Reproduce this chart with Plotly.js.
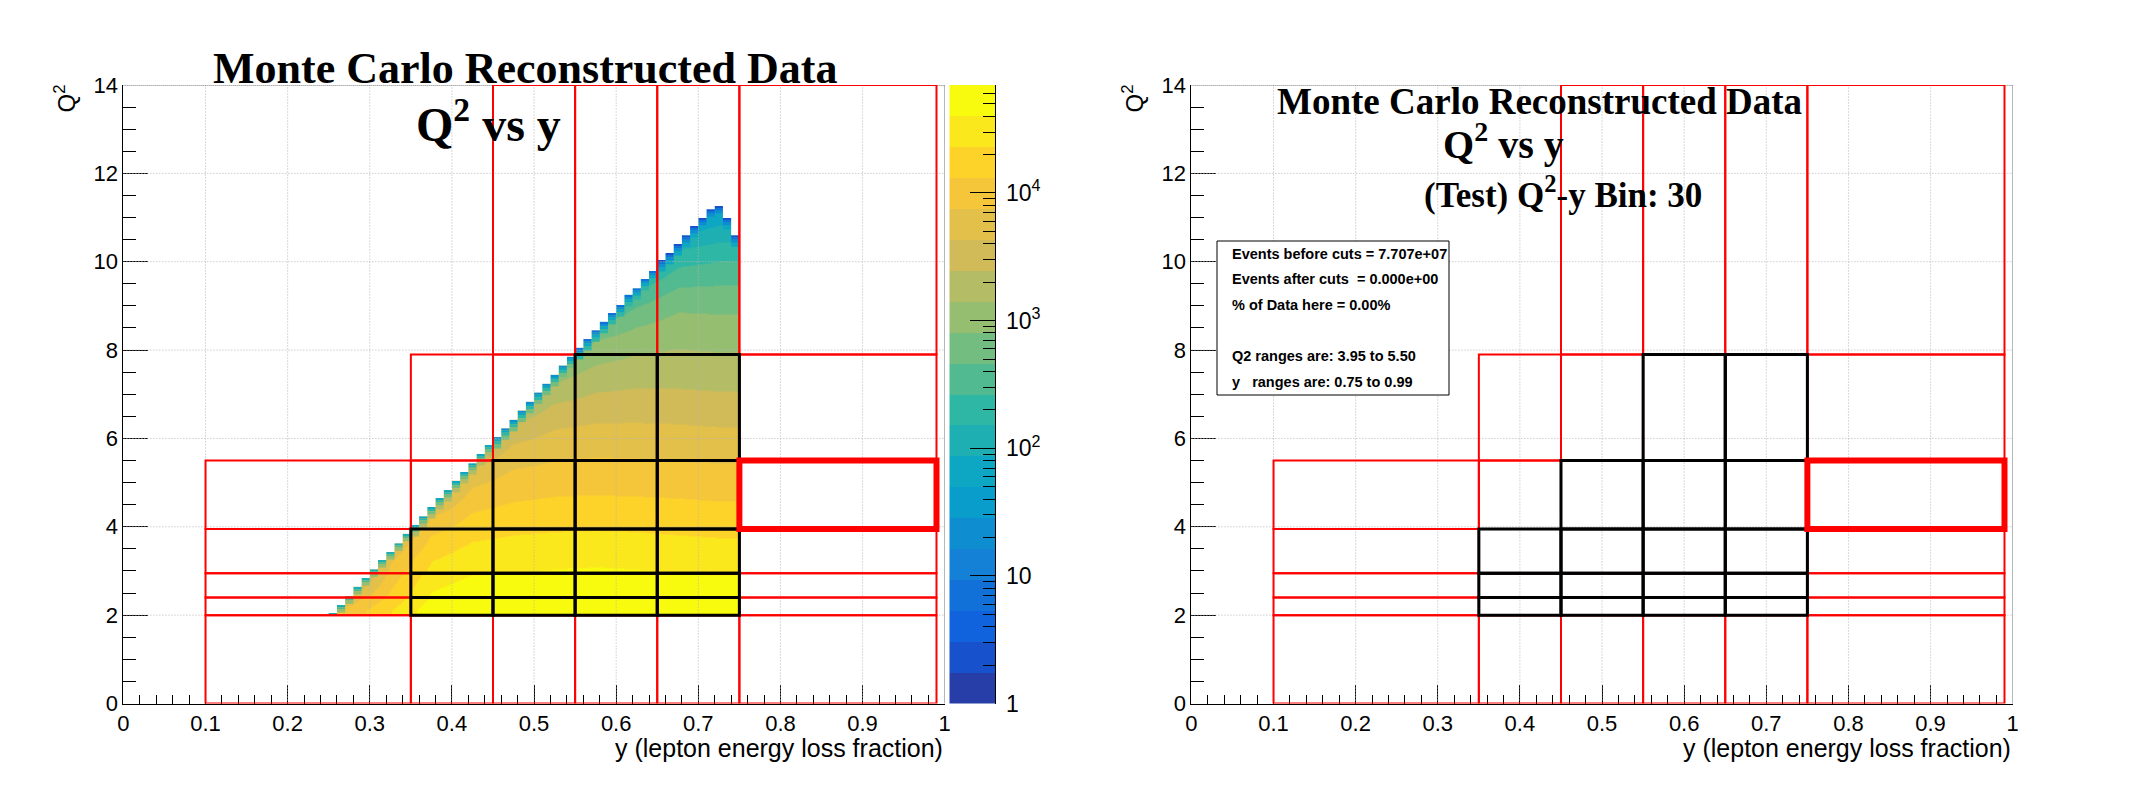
<!DOCTYPE html>
<html><head><meta charset="utf-8">
<script src="https://cdn.plot.ly/plotly-3.0.1.min.js"></script>
<style>html,body{margin:0;padding:0;background:#fff;}#chart{width:2136px;height:790px;}</style>
</head><body><div id="chart"></div>
<script>
// ================= DATA =================
// 2D histogram columns (y bin edges) and the top Q2 edge of each filled column
const histYEdges = [0.25,0.26,0.27,0.28,0.29,0.30,0.31,0.32,0.33,0.34,0.35,0.36,0.37,0.38,0.39,0.40,0.41,0.42,0.43,0.44,0.45,0.46,0.47,0.48,0.49,0.50,0.51,0.52,0.53,0.54,0.55,0.56,0.57,0.58,0.59,0.60,0.61,0.62,0.63,0.64,0.65,0.66,0.67,0.68,0.69,0.70,0.71,0.72,0.73,0.74,0.75];
const histTops = [2.05,2.23,2.43,2.64,2.84,3.04,3.25,3.43,3.63,3.84,
  4.04,4.24,4.45,4.65,4.83,5.04,5.24,5.44,5.65,5.85,
  6.03,6.23,6.42,6.63,6.83,7.04,7.24,7.44,7.65,7.85,
  8.05,8.25,8.45,8.64,8.84,9.02,9.25,9.40,9.61,9.79,
  10.04,10.20,10.40,10.60,10.81,10.99,11.19,11.26,10.99,10.60];
const histQ2Min = 2.0;

// coarse read-out of log10(counts) : rows = Q2 cells, columns = y cells
const countYEdges = [0.25,0.30,0.35,0.40,0.45,0.50,0.55,0.60,0.65,0.70,0.75];
const countQ2Edges = [2.0,2.25,2.5,2.75,3.0,3.5,4.0,4.5,5.0,5.5,6.0,6.5,7.0,7.5,8.0,8.5,9.0,9.5,10.0,10.5,11.0,11.5];
const log10Counts = [
  [3.95,4.35,4.75,4.79,4.82,4.83,4.84,4.83,4.81,4.78],
  [3.75,4.20,4.64,4.75,4.78,4.79,4.80,4.79,4.77,4.74],
  [3.40,4.10,4.58,4.69,4.72,4.73,4.74,4.73,4.71,4.68],
  [3.10,4.00,4.50,4.62,4.65,4.67,4.68,4.67,4.65,4.62],
  [2.80,3.85,4.35,4.50,4.54,4.56,4.57,4.56,4.54,4.51],
  [2.50,3.50,4.15,4.33,4.38,4.40,4.41,4.40,4.38,4.36],
  [2.20,3.10,3.85,4.15,4.22,4.25,4.26,4.25,4.23,4.21],
  [2.00,2.70,3.40,3.95,4.06,4.10,4.11,4.10,4.09,4.07],
  [1.80,2.40,3.00,3.70,3.90,3.95,3.97,3.96,3.95,3.93],
  [1.60,2.20,2.70,3.30,3.70,3.80,3.83,3.82,3.80,3.79],
  [1.50,2.00,2.40,2.90,3.45,3.62,3.67,3.67,3.66,3.64],
  [1.40,1.80,2.20,2.60,3.10,3.42,3.50,3.52,3.51,3.49],
  [1.30,1.70,2.00,2.40,2.70,3.15,3.32,3.36,3.36,3.34],
  [1.20,1.60,1.90,2.20,2.45,2.90,3.12,3.20,3.22,3.20],
  [1.10,1.50,1.80,2.00,2.20,2.50,2.90,3.05,3.10,3.08],
  [1.00,1.40,1.70,1.90,2.00,2.15,2.50,2.80,2.95,2.93],
  [0.90,1.30,1.60,1.80,1.85,1.90,2.10,2.50,2.75,2.75],
  [0.80,1.20,1.50,1.70,1.70,1.70,1.70,2.10,2.50,2.55],
  [0.70,1.10,1.40,1.60,1.55,1.50,1.40,1.60,2.20,2.30],
  [0.60,1.00,1.30,1.50,1.40,1.30,1.10,1.20,1.80,2.00],
  [0.50,0.90,1.20,1.40,1.30,1.10,0.90,0.90,1.30,1.60]
];
// thin low-count fringe under each column top: depth bands (in Q2) and colour level per y group
const fringeDepths = [0, 0.05, 0.10, 0.17, 0.26];
const fringeGroupStart = [0.25, 0.35, 0.45, 0.55, 0.65];
const fringeLevels = [
  [8, 10, 12, null],
  [7, 9, 11, 13],
  [5, 7, 9, 11],
  [3, 5, 7, 9],
  [1, 3, 5, 7]
];
const zLogMax = 4.846;   // log10 of the largest bin (~7e4)
const nLevels = 20;

// Q2-y bin scheme
const allBinsYLo = [0.1,0.35,0.45,0.55,0.65,0.75, 0.1,0.35,0.45,0.55,0.65,0.75, 0.1,0.35,0.45,0.55,0.65,0.75, 0.1,0.35,0.45,0.55,0.65,0.75, 0.1,0.35,0.45,0.55,0.65,0.75, 0.35,0.45,0.55,0.65,0.75, 0.45,0.55,0.65,0.75];
const allBinsYHi = [0.35,0.45,0.55,0.65,0.75,0.99, 0.35,0.45,0.55,0.65,0.75,0.99, 0.35,0.45,0.55,0.65,0.75,0.99, 0.35,0.45,0.55,0.65,0.75,0.99, 0.35,0.45,0.55,0.65,0.75,0.99, 0.45,0.55,0.65,0.75,0.99, 0.55,0.65,0.75,0.99];
const allBinsQLo = [0,0,0,0,0,0, 2,2,2,2,2,2, 2.4,2.4,2.4,2.4,2.4,2.4, 2.95,2.95,2.95,2.95,2.95,2.95, 3.95,3.95,3.95,3.95,3.95,3.95, 5.5,5.5,5.5,5.5,5.5, 7.9,7.9,7.9,7.9];
const allBinsQHi = [2,2,2,2,2,2, 2.4,2.4,2.4,2.4,2.4,2.4, 2.95,2.95,2.95,2.95,2.95,2.95, 3.95,3.95,3.95,3.95,3.95,3.95, 5.5,5.5,5.5,5.5,5.5,5.5, 7.9,7.9,7.9,7.9,7.9, 14,14,14,14];
const dataBinsYLo = [0.35,0.45,0.55,0.65, 0.35,0.45,0.55,0.65, 0.35,0.45,0.55,0.65, 0.45,0.55,0.65, 0.55,0.65];
const dataBinsYHi = [0.45,0.55,0.65,0.75, 0.45,0.55,0.65,0.75, 0.45,0.55,0.65,0.75, 0.55,0.65,0.75, 0.65,0.75];
const dataBinsQLo = [2,2,2,2, 2.4,2.4,2.4,2.4, 2.95,2.95,2.95,2.95, 3.95,3.95,3.95, 5.5,5.5];
const dataBinsQHi = [2.4,2.4,2.4,2.4, 2.95,2.95,2.95,2.95, 3.95,3.95,3.95,3.95, 5.5,5.5,5.5, 7.9,7.9];
const currentBin = {yLo:0.75, yHi:0.99, qLo:3.95, qHi:5.5};

// axis ticks
const xTickVals = [0,0.1,0.2,0.3,0.4,0.5,0.6,0.7,0.8,0.9,1];
const xTickText = ['0','0.1','0.2','0.3','0.4','0.5','0.6','0.7','0.8','0.9','1'];
const yTickVals = [0,2,4,6,8,10,12,14];
const yTickText = ['0','2','4','6','8','10','12','14'];
const zTickVals = [0,1,2,3,4];
const zTickText = ['1','10','10<sup>2</sup>','10<sup>3</sup>','10<sup>4</sup>'];
const zMinorMult = [2,3,4,5,6,7,8,9];

const boxLines = ['Events before cuts = 7.707e+07','Events after cuts \u00a0= 0.000e+00','% of Data here = 0.00%','Q2 ranges are: 3.95 to 5.50','y \u00a0\u00a0ranges are: 0.75 to 0.99'];

// ================= STYLE / BUILD =================
const W = 2136, H = 790;
const px = v => v / W, py = v => 1 - v / H;
const birdStops=[0,0.125,0.25,0.375,0.5,0.625,0.75,0.875,1];
const birdR=[0.2082,0.0592,0.0780,0.0232,0.1802,0.5301,0.8186,0.9956,0.9764];
const birdG=[0.1664,0.3599,0.5041,0.6419,0.7178,0.7492,0.7328,0.7862,0.9832];
const birdB=[0.5293,0.8684,0.8385,0.7914,0.6425,0.4662,0.3499,0.1968,0.0539];
function bird(t){
  let s=0; while(s<birdStops.length-2 && t>birdStops[s+1]) s++;
  const f=(t-birdStops[s])/(birdStops[s+1]-birdStops[s]);
  const c=a=>Math.round(255*(a[s]+f*(a[s+1]-a[s])));
  return 'rgb('+c(birdR)+','+c(birdG)+','+c(birdB)+')';
}
const bandColors=[]; for(let k=0;k<nLevels;k++) bandColors.push(bird(Math.floor((k+0.99)*255/nLevels)/254));
const colorscale=[]; for(let k=0;k<nLevels;k++){ colorscale.push([k/nLevels,bandColors[k]]); colorscale.push([(k+1)/nLevels,bandColors[k]]); }
const bandW = zLogMax/nLevels;

const traces=[];
traces.push({type:'heatmap', x:countYEdges, y:countQ2Edges, z:log10Counts, zsmooth:'best', zmin:0, zmax:zLogMax, zauto:false,
  colorscale:colorscale, showscale:false, hoverinfo:'skip', xaxis:'x', yaxis:'y'});
// white cover above the histogram edge (slightly overhanging the histogram range)
const nE = histYEdges.length;
const mx=[histYEdges[0]-0.006], my=[11.8];
mx.push(histYEdges[0]-0.006); my.push(histTops[0]);
for(let i=0;i<histTops.length;i++){
  const xe = (i+1===histTops.length) ? histYEdges[i+1]+0.006 : histYEdges[i+1];
  mx.push(xe); my.push(histTops[i]);
  if(i+1<histTops.length){ mx.push(xe); my.push(histTops[i+1]); }
}
mx.push(histYEdges[nE-1]+0.006); my.push(11.8);
traces.push({type:'scatter', mode:'lines', x:mx, y:my, fill:'toself', fillcolor:'#ffffff', line:{width:0, color:'rgba(0,0,0,0)'}, hoverinfo:'skip', xaxis:'x', yaxis:'y'});
// fringe bars
for(let L=0;L<fringeDepths.length-1;L++){
  const bx=[],bb=[],bh=[],bc=[];
  for(let i=0;i<histTops.length;i++){
    const xc=(histYEdges[i]+histYEdges[i+1])/2;
    let g=0; for(let j=0;j<fringeGroupStart.length;j++) if(histYEdges[i]>=fringeGroupStart[j]-1e-9) g=j;
    const lev=fringeLevels[g][L];
    if(lev===null) continue;
    const top=histTops[i]-fringeDepths[L];
    const base=Math.max(histQ2Min, histTops[i]-fringeDepths[L+1]);
    if(top<=base) continue;
    bx.push(xc); bb.push(base); bh.push(top-base); bc.push(bandColors[lev]);
  }
  traces.push({type:'bar', x:bx, y:bh, base:bb, width:0.01, marker:{color:bc, line:{width:0}}, hoverinfo:'skip', xaxis:'x', yaxis:'y'});
}
// colour bar
const cbEdges=[], cbZ=[]; for(let k=0;k<=nLevels;k++) cbEdges.push(k*bandW); for(let k=0;k<nLevels;k++) cbZ.push([(k+0.5)*bandW]);
traces.push({type:'heatmap', x:[0,1], y:cbEdges, z:cbZ, zmin:0, zmax:zLogMax, zauto:false, colorscale:colorscale, showscale:false, hoverinfo:'skip', xaxis:'x3', yaxis:'y3'});

const sans='Liberation Sans, Arial, sans-serif', serif='Liberation Serif, Times New Roman, serif';
const labFont={family:sans, size:22, color:'#000'};
const yDom=[1-703.5/H, 1-85/H];
function xAx(dom, anchor){ return {domain:dom, anchor:anchor, range:[0,1], showgrid:false, zeroline:false, showline:true, linecolor:'#000', linewidth:1,
  ticks:'inside', ticklen:18.5, tickwidth:1, tickcolor:'#000', tickmode:'array', tickvals:xTickVals, ticktext:xTickText, tickfont:labFont,
  minor:{tickmode:'linear', tick0:0, dtick:0.02, ticks:'inside', ticklen:9, tickwidth:1, tickcolor:'#000', showgrid:false}, fixedrange:true, automargin:false}; }
function yAx(anchor){ return {domain:yDom, anchor:anchor, range:[0,14], showgrid:false, zeroline:false, showline:true, linecolor:'#000', linewidth:1,
  ticks:'inside', ticklen:24.6, tickwidth:1, tickcolor:'#000', tickmode:'array', tickvals:yTickVals, ticktext:yTickText, tickfont:labFont,
  minor:{tickmode:'linear', tick0:0, dtick:0.5, ticks:'inside', ticklen:12.3, tickwidth:1, tickcolor:'#000', showgrid:false}, fixedrange:true, automargin:false}; }
const zMinor=[]; for(let d=0;d<5;d++) for(const m of zMinorMult){ const v=d+Math.log10(m); if(v<zLogMax) zMinor.push(v); }

const shapes=[];
const gridStyle={color:'#b4b4b4', width:1, dash:'1px,2px'};
[['x','y'],['x2','y2']].forEach(([xr,yr])=>{
  xTickVals.slice(1,-1).forEach(v=>shapes.push({type:'line', xref:xr, yref:yr, x0:v, x1:v, y0:0, y1:14, line:gridStyle, layer:'above'}));
  yTickVals.slice(1,-1).forEach(v=>shapes.push({type:'line', xref:xr, yref:yr, x0:0, x1:1, y0:v, y1:v, line:gridStyle, layer:'above'}));
  shapes.push({type:'line', xref:xr, yref:yr, x0:0, x1:1, y0:14, y1:14, line:{color:'#000', width:1, dash:'1px,1px'}, layer:'above'});
  shapes.push({type:'line', xref:xr, yref:yr, x0:1, x1:1, y0:0, y1:14, line:{color:'#000', width:1, dash:'1px,1px'}, layer:'above'});
});
// stats box on the right pad
shapes.push({type:'rect', xref:'paper', yref:'paper', x0:px(1217), x1:px(1449), y0:py(395), y1:py(241), line:{color:'#000', width:1}, fillcolor:'#fff', layer:'above'});
[['x','y'],['x2','y2']].forEach(([xr,yr])=>{
  for(let i=0;i<allBinsYLo.length;i++) shapes.push({type:'rect', xref:xr, yref:yr, x0:allBinsYLo[i], x1:allBinsYHi[i], y0:allBinsQLo[i], y1:allBinsQHi[i], line:{color:'#ff0000', width:2}, fillcolor:'rgba(0,0,0,0)', layer:'above'});
  for(let i=0;i<dataBinsYLo.length;i++) shapes.push({type:'rect', xref:xr, yref:yr, x0:dataBinsYLo[i], x1:dataBinsYHi[i], y0:dataBinsQLo[i], y1:dataBinsQHi[i], line:{color:'#000000', width:3}, fillcolor:'rgba(0,0,0,0)', layer:'above'});
  shapes.push({type:'rect', xref:xr, yref:yr, x0:currentBin.yLo, x1:currentBin.yHi, y0:currentBin.qLo, y1:currentBin.qHi, line:{color:'#ff0000', width:6}, fillcolor:'rgba(0,0,0,0)', layer:'above'});
});

const ann=[];
function A(text,x,y,size,fam,xa,extra){ ann.push(Object.assign({text:text, x:x, y:y, xref:'paper', yref:'paper', xanchor:xa||'center', yanchor:'middle', showarrow:false, font:{family:fam, size:size, color:'#000'}}, extra||{})); }
A('<b>Monte Carlo Reconstructed Data</b>', px(524.6), py(68.6), 44, serif);
A('<b>Q<sup>2</sup> vs y</b>', px(488.5), py(121), 48, serif);
A('<b>Monte Carlo Reconstructed Data</b>', px(1539), py(101), 37, serif);
A('<b>Q<sup>2</sup> vs y</b>', px(1503), py(142), 40, serif);
A('<b>(Test) Q<sup>2</sup>-y Bin: 30</b>', px(1563), py(192.5), 35, serif);
[254.3,279.3,305,356,381.7].forEach((yy,i)=>A('<b>'+boxLines[i]+'</b>', px(1230), py(yy), 14.5, sans, 'left'));
[0,1068].forEach(off=>{
  A('y (lepton energy loss fraction)', px(944.7+off), py(748), 25, sans, 'right');
  A('Q<sup>2</sup>', px(64+off), py(98.5), 24, sans, 'center', {textangle:-90});
});

const layout={width:W, height:H, margin:{l:0,r:0,t:0,b:0}, paper_bgcolor:'#fff', plot_bgcolor:'rgba(0,0,0,0)', showlegend:false, hovermode:false, barmode:'overlay',
  xaxis:xAx([123.4/W, 944.7/W],'y'), yaxis:yAx('x'),
  xaxis2:xAx([1191.4/W, 2012.7/W],'y2'), yaxis2:yAx('x2'),
  xaxis3:{domain:[949.3/W, 995.3/W], anchor:'y3', range:[0,1], visible:false, fixedrange:true},
  yaxis3:{domain:yDom, anchor:'x3', side:'right', range:[0,zLogMax], showgrid:false, zeroline:false, showline:true, linecolor:'#000', linewidth:1,
    ticks:'inside', ticklen:25, tickwidth:1, tickcolor:'#000', tickmode:'array', tickvals:zTickVals, ticktext:zTickText, ticklabelstandoff:5,
    tickfont:{family:sans, size:23, color:'#000'}, minor:{tickmode:'array', tickvals:zMinor, ticks:'inside', ticklen:12, tickwidth:1, tickcolor:'#000', showgrid:false}, fixedrange:true, automargin:false},
  shapes:shapes, annotations:ann};
traces.push({type:'scatter', x:[0], y:[0], mode:'markers', marker:{opacity:0}, hoverinfo:'skip', xaxis:'x2', yaxis:'y2'});
Plotly.newPlot('chart', traces, layout, {staticPlot:true, displayModeBar:false});
</script></body></html>
